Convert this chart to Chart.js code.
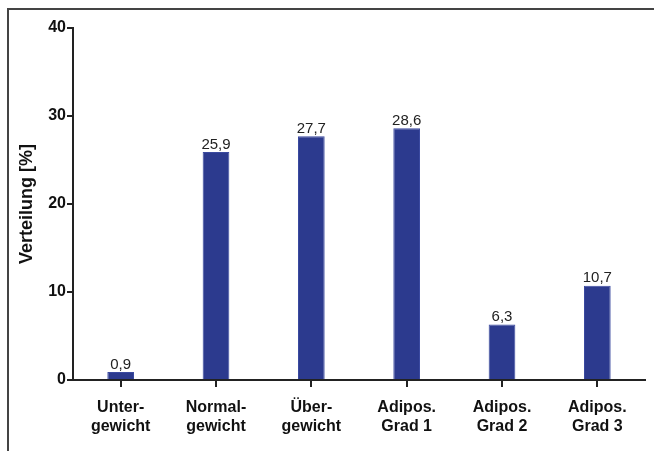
<!DOCTYPE html>
<html>
<head>
<meta charset="utf-8">
<script src="https://cdn.jsdelivr.net/npm/chart.js@4/dist/chart.umd.min.js"></script>
<style>
  html, body { margin: 0; padding: 0; background: #fff; }
  #wrap { width: 654px; height: 451px; position: relative; }
</style>
</head>
<body>
<div id="wrap"><canvas id="chart" width="654" height="451"></canvas></div>
<script>
const categories = [["Unter-", "gewicht"], ["Normal-", "gewicht"], ["Über-", "gewicht"], ["Adipos.", "Grad 1"], ["Adipos.", "Grad 2"], ["Adipos.", "Grad 3"]];
const verteilung = [0.9, 25.9, 27.7, 28.6, 6.3, 10.7];
const yTicks = [0, 10, 20, 30, 40];

const FONT = "'Liberation Sans', Arial, Helvetica, sans-serif";

// frame round the figure (top and left edge only)
const framePlugin = {
    id: "frame",
    beforeDraw(chart) {
        const c = chart.ctx;
        c.save();
        c.strokeStyle = "#444";
        c.lineWidth = 2;
        c.beginPath();
        c.moveTo(654, 9);
        c.lineTo(8, 9);
        c.lineTo(8, 451);
        c.stroke();
        c.restore();
    }
};

// value above each bar, with a decimal comma
const valueLabels = {
    id: "valueLabels",
    afterDatasetsDraw(chart) {
        const c = chart.ctx;
        const meta = chart.getDatasetMeta(0);
        c.save();
        c.font = "15px " + FONT;
        c.fillStyle = "#222";
        c.textAlign = "center";
        c.textBaseline = "bottom";
        meta.data.forEach((bar, i) => {
            const txt = verteilung[i].toFixed(1).replace(".", ",");
            c.fillText(txt, bar.x, bar.y);
        });
        c.restore();
    }
};

const ctx = document.getElementById("chart").getContext("2d");
new Chart(ctx, {
    type: "bar",
    data: {
        labels: categories,
        datasets: [{
            data: verteilung,
            backgroundColor: "#2c3a8e",
            borderColor: "#3b4aa0",
            borderWidth: 1,
            barPercentage: 0.28,
            categoryPercentage: 1
        }]
    },
    options: {
        responsive: false,
        animation: false,
        layout: { padding: { left: 0, right: 9, top: 28, bottom: 0 } },
        plugins: {
            legend: { display: false },
            tooltip: { enabled: false }
        },
        scales: {
            x: {
                afterFit: (s) => { s.height = 71; },
                grid: {
                    offset: false,
                    drawOnChartArea: false,
                    color: "#222",
                    lineWidth: 2,
                    tickLength: 7
                },
                border: { color: "#222", width: 2 },
                ticks: {
                    color: "#111",
                    padding: 11,
                    font: { family: FONT, size: 16, weight: "bold", lineHeight: 1.2 }
                }
            },
            y: {
                min: 0,
                max: 40,
                afterFit: (s) => { s.width = 73; },
                afterBuildTicks: (s) => { s.ticks = yTicks.map(v => ({ value: v })); },
                grid: {
                    drawOnChartArea: false,
                    color: "#222",
                    lineWidth: 2,
                    tickLength: 6
                },
                border: { color: "#222", width: 2 },
                ticks: {
                    color: "#111",
                    padding: 1,
                    font: { family: FONT, size: 16, weight: "bold" }
                },
                title: {
                    display: true,
                    text: "Verteilung [%]",
                    color: "#111",
                    padding: { top: 16, bottom: 0 },
                    font: { family: FONT, size: 18, weight: "bold" }
                }
            }
        }
    },
    plugins: [framePlugin, valueLabels]
});
</script>
</body>
</html>
